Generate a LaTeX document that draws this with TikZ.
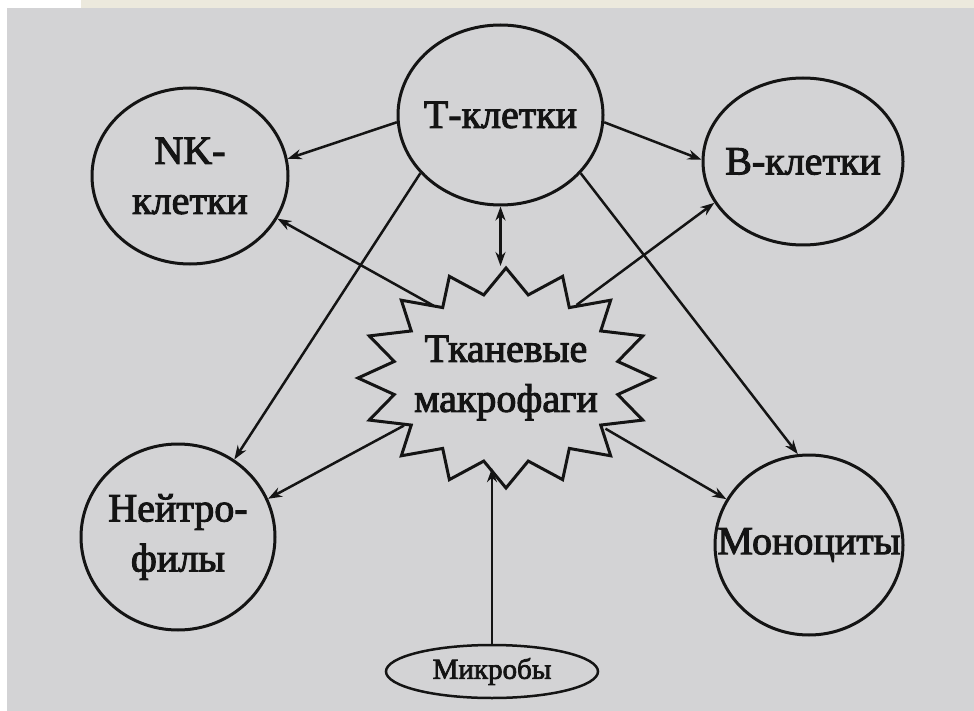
\documentclass[tikz,border=0pt]{standalone}
\usepackage{fontspec}
\setmainfont{Liberation Serif}
\newfontfamily\inkfont{Liberation Serif}[FakeBold=2.5]
\usetikzlibrary{shapes.geometric,arrows.meta}
\definecolor{scan}{RGB}{211,211,213}
\definecolor{beige}{RGB}{236,233,221}
\definecolor{ink}{RGB}{20,20,20}
\begin{document}
\begin{tikzpicture}[x=1pt,y=-1pt,
  cell/.style={ellipse, draw=ink, line width=3pt, inner sep=0pt},
  hidden/.style={ellipse, draw=none, inner sep=0pt},
  lbl/.style={font=\inkfont\fontsize{40}{50}\selectfont, text=ink, align=center, inner sep=0pt},
  smalllbl/.style={font=\inkfont\fontsize{29}{34}\selectfont, text=ink, inner sep=0pt},
  tip/.tip={Stealth[length=14pt,width=10pt]},
  conn/.style={draw=ink, line width=2.5pt, -tip},
  bothconn/.style={draw=ink, line width=2.5pt, tip-tip},
  starline/.style={draw=ink, line width=3pt, line join=miter}
]
\useasboundingbox (0,0) rectangle (974,711);
% background of the scanned page
\fill[white] (0,0) rectangle (974,711);
\fill[beige] (81,0) rectangle (974,8);
\fill[scan] (7,8) rectangle (974,711);

% cells
\node[cell, minimum width=205pt, minimum height=180pt,
      label={[lbl]center:Т-клетки}] (T) at (500.5,115) {};
\node[cell, minimum width=196pt, minimum height=176pt,
      label={[lbl]center:NK-\\клетки}] (NK) at (190,176) {};
\node[cell, minimum width=200pt, minimum height=167pt,
      label={[lbl]center:В-клетки}] (B) at (803,161.5) {};
\node[cell, minimum width=194pt, minimum height=186pt,
      label={[lbl]center:Нейтро-\\филы}] (N) at (178,537) {};
\node[cell, minimum width=188pt, minimum height=180pt,
      label={[lbl]center:Моноциты}] (Mo) at (809,545) {};

% tissue macrophages (star)
\node[hidden, minimum width=240pt, minimum height=180pt,
      label={[lbl]center:Тканевые\\макрофаги}] (M) at (506,378) {};
\draw[starline, shift={(M.center)}]
  plot[domain=0:31, samples=32]
  ({148*(1-0.23*mod(\x,2))*cos(90+11.25*\x)},
   {-110*(1-0.23*mod(\x,2))*sin(90+11.25*\x)}) -- cycle;
\coordinate (Mtop) at (500.5,266);

% microbes
\node[cell, line width=2.5pt, minimum width=212pt, minimum height=53pt,
      label={[smalllbl]center:Микробы}] (Mic) at (492,671.5) {};

% connectors
\draw[conn] (T.184) -- (NK.10);
\draw[conn] (T.356) -- (B.179);
\draw[conn] (T.216) -- (N.54);
\draw[conn] (T.324) -- (Mo.97);
\draw[bothconn] (T.south) -- (Mtop);
\draw[conn] (M.135) -- (NK.334);
\draw[conn] (M.46) -- (B.205);
\draw[conn] (M.205) -- (N.23);
\draw[conn] (M.333) -- (Mo.151);
\draw[conn] (Mic.north) -- (Mic.north |- M.south);
\end{tikzpicture}
\end{document}
